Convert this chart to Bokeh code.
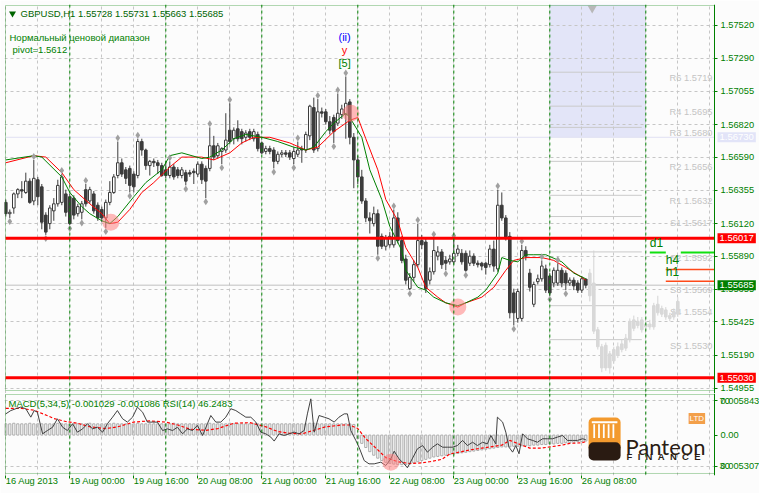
from bokeh.plotting import figure
from bokeh.models import (Range1d, FixedTicker, PrintfTickFormatter, Span, Label, BoxAnnotation,
                          ColumnDataSource, LinearAxis)
from bokeh.layouts import column
from bokeh.embed import file_html
from bokeh.resources import INLINE
from bokeh.core.properties import value

FONT = "Liberation Sans"
GREEN = "#008000"
DKGREEN = "#006400"
BG = "#fcfcfc"
GRID = "#c6c6c6"
CANDLE = "#3c3c3c"
FS = "9.3px"

# ---------------- data: GBPUSD H1 candles (bar 0 = 16 Aug 2013 08:00) ----------------
opens = [1.5627, 1.5619, 1.5623, 1.5633, 1.5636, 1.5634, 1.5642, 1.5628, 1.5643, 1.5638,
         1.5618, 1.5612, 1.5621, 1.5626, 1.5627, 1.5633, 1.5631, 1.5630, 1.5619, 1.5620,
         1.5636, 1.5628, 1.5633, 1.5625, 1.5622, 1.5616, 1.5627, 1.5634, 1.5646, 1.5655,
         1.5650, 1.5651, 1.5647, 1.5646, 1.5670, 1.5664, 1.5653, 1.5656, 1.5655, 1.5653,
         1.5650, 1.5646, 1.5652, 1.5650, 1.5646, 1.5648, 1.5648, 1.5649, 1.5647, 1.5654,
         1.5651, 1.5651, 1.5667, 1.5660, 1.5663, 1.5664, 1.5678, 1.5672, 1.5679, 1.5677,
         1.5673, 1.5677, 1.5672, 1.5675, 1.5669, 1.5663, 1.5665, 1.5664, 1.5656, 1.5661,
         1.5662, 1.5662, 1.5658, 1.5661, 1.5665, 1.5664, 1.5674, 1.5694, 1.5665, 1.5691,
         1.5691, 1.5684, 1.5687, 1.5683, 1.5689, 1.5689, 1.5698, 1.5673, 1.5657, 1.5645,
         1.5628, 1.5616, 1.5612, 1.5619, 1.5603, 1.5596, 1.5597, 1.5597, 1.5616, 1.5600,
         1.5587, 1.5566, 1.5574, 1.5583, 1.5600, 1.5599, 1.5572, 1.5578, 1.5589, 1.5592,
         1.5586, 1.5585, 1.5585, 1.5591, 1.5591, 1.5591, 1.5584, 1.5589, 1.5584, 1.5584,
         1.5584, 1.5583, 1.5594, 1.5580, 1.5625, 1.5616, 1.5603, 1.5563, 1.5545, 1.5545,
         1.5593, 1.5577, 1.5555, 1.5571, 1.5573, 1.5580, 1.5575, 1.5570, 1.5570, 1.5579,
         1.5577, 1.5570, 1.5572, 1.5570, 1.5565, 1.55728]
highs = [1.5629, 1.5622, 1.5634, 1.5637, 1.5642, 1.5648, 1.5644, 1.5657, 1.5645, 1.5640,
         1.5620, 1.5625, 1.5630, 1.5643, 1.5647, 1.5636, 1.5633, 1.5632, 1.5626, 1.5628,
         1.5640, 1.5638, 1.5635, 1.5627, 1.5624, 1.5629, 1.5642, 1.5647, 1.5670, 1.5658,
         1.5652, 1.5653, 1.5649, 1.5672, 1.5672, 1.5665, 1.5657, 1.5658, 1.5657, 1.5655,
         1.5656, 1.5656, 1.5654, 1.5652, 1.5652, 1.5650, 1.5650, 1.5651, 1.5656, 1.5656,
         1.5653, 1.5680, 1.5674, 1.5669, 1.5666, 1.5690, 1.5697, 1.5680, 1.5685, 1.5679,
         1.5678, 1.5679, 1.5679, 1.5677, 1.5670, 1.5667, 1.5667, 1.5666, 1.5663, 1.5664,
         1.5664, 1.5664, 1.5666, 1.5670, 1.5667, 1.5677, 1.5696, 1.5701, 1.5700, 1.5694,
         1.5693, 1.5688, 1.5689, 1.5704, 1.5696, 1.5716, 1.5700, 1.5676, 1.5660, 1.5650,
         1.5630, 1.5620, 1.5624, 1.5622, 1.5605, 1.5604, 1.5606, 1.5622, 1.5620, 1.5603,
         1.5590, 1.5577, 1.5586, 1.5612, 1.5604, 1.5602, 1.5581, 1.5602, 1.5596, 1.5594,
         1.5589, 1.5590, 1.5601, 1.5597, 1.5594, 1.5593, 1.5593, 1.5591, 1.5586, 1.5585,
         1.5585, 1.5597, 1.5600, 1.5636, 1.5634, 1.5618, 1.5606, 1.5566, 1.5566, 1.5597,
         1.5596, 1.5580, 1.5571, 1.5576, 1.5586, 1.5583, 1.5577, 1.5581, 1.5584, 1.5581,
         1.5579, 1.5574, 1.5574, 1.5572, 1.5575, 1.55731]
lows = [1.5617, 1.5616, 1.5619, 1.5630, 1.5630, 1.5633, 1.5626, 1.5625, 1.5625, 1.5608,
        1.5604, 1.5608, 1.5614, 1.5624, 1.5625, 1.5617, 1.5611, 1.5615, 1.5617, 1.5615,
        1.5624, 1.5626, 1.5619, 1.5614, 1.5613, 1.5609, 1.5625, 1.5633, 1.5644, 1.5645,
        1.5640, 1.5634, 1.5634, 1.5644, 1.5660, 1.5650, 1.5646, 1.5652, 1.5647, 1.5645,
        1.5644, 1.5644, 1.5643, 1.5644, 1.5644, 1.5639, 1.5645, 1.5640, 1.5645, 1.5640,
        1.5630, 1.5649, 1.5657, 1.5658, 1.5654, 1.5662, 1.5668, 1.5668, 1.5670, 1.5668,
        1.5670, 1.5671, 1.5670, 1.5663, 1.5661, 1.5661, 1.5661, 1.5651, 1.5654, 1.5659,
        1.5659, 1.5657, 1.5654, 1.5659, 1.5655, 1.5662, 1.5671, 1.5662, 1.5663, 1.5687,
        1.5682, 1.5675, 1.5669, 1.5681, 1.5686, 1.5672, 1.5668, 1.5637, 1.5640, 1.5626,
        1.5613, 1.5605, 1.5610, 1.5590, 1.5594, 1.5593, 1.5595, 1.5595, 1.5598, 1.5584,
        1.5569, 1.5565, 1.5571, 1.5581, 1.5594, 1.5563, 1.5569, 1.5576, 1.5586, 1.5580,
        1.5579, 1.5583, 1.5583, 1.5589, 1.5583, 1.5578, 1.5582, 1.5582, 1.5581, 1.5579,
        1.5576, 1.5581, 1.5578, 1.5578, 1.5614, 1.5600, 1.5545, 1.5540, 1.5542, 1.5543,
        1.5586, 1.5564, 1.5553, 1.5569, 1.5571, 1.5563, 1.5561, 1.5567, 1.5568, 1.5567,
        1.5565, 1.5568, 1.5565, 1.5563, 1.5563, 1.55663]
closes = [1.5619, 1.5620, 1.5633, 1.5636, 1.5635, 1.5642, 1.5627, 1.5644, 1.5631, 1.5613,
          1.5606, 1.5623, 1.5626, 1.5639, 1.5645, 1.5620, 1.5612, 1.5618, 1.5624, 1.5626,
          1.5626, 1.5636, 1.5621, 1.5616, 1.5616, 1.5627, 1.5634, 1.5645, 1.5655, 1.5647,
          1.5644, 1.5639, 1.5638, 1.5670, 1.5664, 1.5653, 1.5656, 1.5655, 1.5653, 1.5646,
          1.5646, 1.5652, 1.5645, 1.5646, 1.5650, 1.5642, 1.5647, 1.5648, 1.5654, 1.5643,
          1.5642, 1.5667, 1.5659, 1.5667, 1.5665, 1.5671, 1.5670, 1.5678, 1.5672, 1.5672,
          1.5676, 1.5673, 1.5677, 1.5665, 1.5662, 1.5665, 1.5663, 1.5656, 1.5661, 1.5662,
          1.5661, 1.5659, 1.5663, 1.5664, 1.5664, 1.5675, 1.5695, 1.5664, 1.5691, 1.5690,
          1.5684, 1.5678, 1.5677, 1.5690, 1.5693, 1.5697, 1.5673, 1.5657, 1.5645, 1.5628,
          1.5616, 1.5614, 1.5619, 1.5596, 1.5596, 1.5602, 1.5603, 1.5616, 1.5600, 1.5586,
          1.5572, 1.5574, 1.5583, 1.5600, 1.5597, 1.5566, 1.5578, 1.5593, 1.5592, 1.5583,
          1.5584, 1.5587, 1.5591, 1.5594, 1.5585, 1.5579, 1.5589, 1.5584, 1.5583, 1.5582,
          1.5581, 1.5594, 1.5582, 1.5625, 1.5616, 1.5602, 1.5549, 1.5549, 1.5564, 1.5593,
          1.5589, 1.5567, 1.5569, 1.5573, 1.5582, 1.5565, 1.5563, 1.5579, 1.5579, 1.5570,
          1.5570, 1.5572, 1.5568, 1.5565, 1.5573, 1.55685]

# projected (grey) candles to the right of the last bar
proj_x = [146, 147, 148, 149, 150, 151, 152, 153, 154, 155, 156, 157, 158, 159, 160, 161, 162, 163, 164, 165, 166, 167, 168]
proj_open = [1.5577, 1.5570, 1.5537, 1.5525, 1.5510, 1.5520, 1.5515, 1.5519, 1.5523, 1.5524, 1.5530, 1.5538,
             1.5543, 1.5544, 1.5539, 1.5541, 1.5539, 1.5549, 1.5552, 1.5551, 1.5547, 1.5546, 1.5548]
proj_high = [1.5580, 1.5593, 1.5539, 1.5527, 1.5528, 1.5522, 1.5525, 1.5528, 1.5530, 1.5534, 1.5545, 1.5547,
             1.5546, 1.5546, 1.5543, 1.5544, 1.5556, 1.5561, 1.5554, 1.5553, 1.5549, 1.5552, 1.5560]
proj_low = [1.5557, 1.5534, 1.5523, 1.5507, 1.5508, 1.5506, 1.5513, 1.5517, 1.5521, 1.5522, 1.5528, 1.5536,
            1.5538, 1.5535, 1.5537, 1.5537, 1.5537, 1.5547, 1.5546, 1.5544, 1.5543, 1.5544, 1.5546]
proj_close = [1.5561, 1.5536, 1.5525, 1.5510, 1.5526, 1.5510, 1.5523, 1.5525, 1.5527, 1.5531, 1.5543, 1.5544,
              1.5540, 1.5537, 1.5541, 1.5539, 1.5554, 1.5555, 1.5548, 1.5546, 1.5545, 1.5550, 1.5557]

# moving averages (green fast, red slow), read at sample bars
ma_fast_x = [0, 7, 9, 14, 16, 19, 21, 24, 26, 28, 32, 35, 39, 41, 44, 49, 51, 54, 57, 60,
             64, 68, 72, 75, 77, 80, 82, 85, 86, 89, 91, 94, 96, 99, 100, 103, 105, 107, 110, 113,
             115, 118, 120, 123, 124, 126, 128, 130, 132, 135, 139, 142, 145]
ma_fast = [1.5657, 1.5660, 1.5659, 1.5645, 1.5634, 1.5624, 1.5619, 1.5614, 1.5612, 1.5617,
           1.5631, 1.5641, 1.5650, 1.5660, 1.5662, 1.5658, 1.5659, 1.5664, 1.5672, 1.5675,
           1.5673, 1.5670, 1.5666, 1.5664, 1.5666, 1.5677, 1.5683, 1.5690, 1.5687, 1.5673,
           1.5650, 1.5629, 1.5610, 1.5593, 1.5579, 1.5567, 1.5565, 1.5560, 1.5556, 1.5554,
           1.5556, 1.5560, 1.5565, 1.5577, 1.5588, 1.5586, 1.5585, 1.5590, 1.5590, 1.5590,
           1.5585, 1.5577, 1.5573]
ma_slow_x = [0, 7, 10, 14, 17, 21, 24, 26, 28, 31, 34, 37, 41, 44, 49, 52, 56, 59, 62, 66,
             71, 75, 78, 82, 86, 88, 90, 93, 95, 98, 100, 103, 105, 108, 110, 113, 115, 119, 122, 125,
             127, 130, 134, 137, 140, 144, 145]
ma_slow = [1.5655, 1.5660, 1.5659, 1.5648, 1.5636, 1.5626, 1.5619, 1.5612, 1.5613, 1.5622,
           1.5634, 1.5641, 1.5652, 1.5659, 1.5659, 1.5657, 1.5662, 1.5669, 1.5673, 1.5673,
           1.5669, 1.5664, 1.5666, 1.5677, 1.5685, 1.5687, 1.5672, 1.5650, 1.5629, 1.5614,
           1.5595, 1.5581, 1.5567, 1.5560, 1.5556, 1.5553, 1.5556, 1.5560, 1.5567, 1.5579,
           1.5586, 1.5588, 1.5588, 1.5586, 1.5581, 1.5574, 1.5572]

# fractal markers (bars), MA crossings
fractal_up = [7, 14, 20, 28, 33, 41, 51, 56, 73, 78, 83, 85, 97, 103, 107, 112, 123, 129, 134, 138]
fractal_down = [1, 10, 16, 19, 25, 31, 45, 50, 54, 67, 72, 82, 93, 101, 110, 115, 127, 136, 140]
cross_x = [26.25, 86.25, 113]
cross_y = [1.5613, 1.5690, 1.5553]

# price levels
price_ticks = [1.57520, 1.57290, 1.57055, 1.56820, 1.56590, 1.56355, 1.56120, 1.55890,
               1.55655, 1.55425, 1.55190, 1.54955]
red_levels = [1.56017, 1.55030]
bid_price = 1.55685
box_level = 1.56730
piv_levels = [1.5719, 1.5695, 1.5680, 1.5656, 1.5632, 1.5617, 1.5592, 1.5569, 1.5554, 1.5530]
piv_labels = ["R6 1.5719", "R4 1.5695", "R3 1.5680", "R2 1.5656", "R1 1.5632",
              "S1 1.5617", "S2 1.5592", "S3 1.5569", "S4 1.5554", "S5 1.5530"]
piv_start, piv_end = 136, 159
tf_names = ["d1", "h4", "h1"]
tf_levels = [1.55916, 1.55796, 1.55713]
tf_colors = ["#10e010", "#ff4a1a", "#ff4a1a"]
tf_start = [161, 165, 165]
d1_gap = (165.0, 168.75)
peak_bar, peak_price = 84.7, 1.5716
shift_bar = 146.6

# time axis
day_starts = [16, 40, 64, 88, 112, 136, 160]
grid_bars = list(range(0, 177, 8))
time_ticks = [0, 16, 32, 48, 64, 80, 96, 112, 128, 144]
time_labels = ["16 Aug 2013", "19 Aug 00:00", "19 Aug 16:00", "20 Aug 08:00", "21 Aug 00:00",
               "21 Aug 16:00", "22 Aug 08:00", "23 Aug 00:00", "23 Aug 16:00", "26 Aug 08:00"]

# indicator panel: MACD(5,34,5) histogram + signal, RSI(14)
macd_hist = [0.0019, 0.0019, 0.0020, 0.0019, 0.0019, 0.0019, 0.0020, 0.0019, 0.0019, 0.0019,
             0.0019, 0.0019, 0.0019, 0.0020, 0.0019, 0.0019, 0.0019, 0.0019, 0.0019, 0.0019,
             0.0019, 0.0020, 0.0019, 0.0019, 0.0019, 0.0019, 0.0019, 0.0020, 0.0019, 0.0019,
             0.0019, 0.0019, 0.0019, 0.0020, 0.0019, 0.0019, 0.0019, 0.0019, 0.0019, 0.0019,
             0.0019, 0.0019, 0.0020, 0.0019, 0.0019, 0.0019, 0.0019, 0.0019, 0.0019, 0.0019,
             0.0019, 0.0020, 0.0019, 0.0019, 0.0019, 0.0019, 0.0020, 0.0019, 0.0019, 0.0019,
             0.0019, 0.0019, 0.0019, 0.0019, 0.0019, 0.0019, 0.0019, 0.0019, 0.0019, 0.0019,
             0.0019, 0.0019, 0.0019, 0.0019, 0.0019, 0.0019, 0.0020, 0.0020, 0.0019, 0.0019,
             0.0019, 0.0019, 0.0019, 0.0019, 0.0019, 0.0019, 0.0019, 0.0018,
             -0.0006, -0.0014, -0.0021, -0.0028, -0.0034, -0.0039, -0.0043, -0.0046, -0.0048, -0.0049,
             -0.0050, -0.0050, -0.0050, -0.0049, -0.0047, -0.0045, -0.0043, -0.0041, -0.0039, -0.0037,
             -0.0036, -0.0035, -0.0034, -0.0033, -0.0032, -0.0031, -0.0030, -0.0029, -0.0028, -0.0027,
             -0.0026, -0.0025, -0.0024, -0.0023, -0.0022, -0.0021, -0.0020, -0.0020, -0.0020, -0.0019,
             -0.0019, -0.0018, -0.0018, -0.0018, -0.0017, -0.0017, -0.0016, -0.0016, -0.0015, -0.0015,
             -0.0014, -0.0014, -0.0013, -0.0013, -0.0012, -0.0011, -0.0011, -0.0010]
sig_x = [0, 4, 7, 10, 12, 15, 18, 21, 25, 28, 32, 36, 40, 43, 46, 50, 53, 57, 61, 65,
         68, 71, 74, 77, 80, 84, 86, 88, 90, 93, 95, 98, 101, 104, 106, 109, 111, 114, 116, 119,
         121, 124, 126, 129, 131, 134, 136, 139, 141, 144, 145]
sig_v = [0.0045, 0.0045, 0.0042, 0.0034, 0.0028, 0.0023, 0.0020, 0.0014, 0.0011, 0.0014,
         0.0022, 0.0024, 0.0022, 0.0017, 0.0010, 0.0008, 0.0011, 0.0020, 0.0021, 0.0014,
         0.0006, 0.0003, 0.0002, 0.0008, 0.0014, 0.0017, 0.0017, 0.0011, -0.0006, -0.0025,
         -0.0038, -0.0045, -0.0048, -0.0047, -0.0045, -0.0041, -0.0032, -0.0028, -0.0025, -0.0022,
         -0.0020, -0.0017, -0.0009, -0.0017, -0.0022, -0.0022, -0.0020, -0.0017, -0.0014, -0.0013,
         -0.0011]
rsi_x = [0, 1.25, 2.5, 3.75, 5, 6.25, 7.1, 7.9, 9.2, 10.4,
         11.7, 12.9, 14.2, 15.4, 16.7, 17.9, 19.2, 20.4, 21.7, 22.9,
         24.2, 25.4, 26.7, 27.9, 29.2, 30.4, 31.7, 32.9, 34.2, 35.4,
         36.7, 37.9, 39.2, 40.4, 41.7, 42.9, 44.2, 45.4, 46.7, 47.9,
         49.2, 50.4, 51.25, 52.5, 53.75, 55, 56.25, 57.5, 58.75, 60,
         61.25, 62.5, 63.75, 65, 66.25, 67.1, 68.3, 69.6, 70.8, 72.1,
         73.3, 74.6, 75.4, 76.25, 77.1, 78.3, 79.6, 80.8, 82.1, 83.3,
         84.6, 85.4, 86.25, 87.5, 88.3, 89.6, 90.8, 92.1, 93.75, 95,
         96.25, 97.1, 98.3, 99.6, 100.4, 101.6, 102.9, 104.2, 105.4, 106.7,
         107.9, 109.2, 110.4, 111.7, 112.9, 114.2, 115.4, 116.7, 117.9, 119.2,
         120.4, 121.25, 122.5, 122.9, 124.2, 125, 125.8, 126.7, 127.5, 128.3,
         129.2, 130.4, 131.7, 132.9, 134.2, 135.4, 136.7, 137.9, 139.2, 140.4,
         141.7, 142.9, 144.2, 145]
rsi_v = [61.9, 63.9, 65.0, 66.0, 65.0, 59.9, 63.9, 62.9, 49.8, 51.8,
         53.8, 58.9, 53.8, 51.8, 55.9, 50.8, 52.8, 55.9, 52.8, 53.8,
         50.8, 55.9, 59.9, 63.9, 58.9, 56.9, 59.9, 66.0, 62.9, 56.9,
         56.9, 56.9, 51.8, 52.8, 51.8, 53.8, 49.8, 52.8, 51.8, 54.9,
         48.8, 55.9, 60.9, 56.9, 56.9, 59.9, 65.0, 63.9, 61.9, 59.9,
         59.9, 56.9, 50.8, 49.8, 47.8, 45.4, 49.8, 48.8, 49.8, 50.8,
         49.8, 51.8, 61.9, 71.0, 50.8, 60.9, 59.9, 58.9, 56.9, 59.9,
         61.9, 61.9, 51.8, 45.8, 41.7, 33.6, 31.6, 31.6, 32.6, 30.6,
         34.6, 39.3, 34.6, 31.6, 29.2, 34.6, 40.7, 42.7, 38.7, 41.7,
         43.7, 41.7, 41.7, 41.7, 42.7, 45.8, 42.7, 44.7, 42.7, 44.7,
         43.7, 48.8, 43.7, 59.9, 56.9, 50.8, 41.7, 38.7, 42.7, 37.7,
         49.8, 46.8, 45.8, 44.7, 46.8, 46.8, 46.8, 47.8, 48.8, 45.8,
         45.8, 45.8, 46.8, 46.25]
rsi_cross_x, rsi_cross_y = [96.25], [32.6]
macd_ticks = [0.005843, 0.0, -0.005307]
macd_tick_labels = ["0.005843", "0.00", "0.005307"]
rsi_levels = [70, 30]

# ---------------- layout constants (bar units / value units of the visible frame edges) ----------------
X_START, X_END = -0.325, 188.425          # plotting area incl. the price-scale strip
X0, X_EDGE = -0.075, 177.175              # visible chart frame (left / right edge)
P_LO, P_HI = 1.549194, 1.576684           # main y range
P_EDGE_LO, P_EDGE_HI = 1.549406, 1.576614 # main frame edges
M_LO, M_HI = -0.006828, 0.007026          # indicator y range (MACD units)
M_EDGE_LO, M_EDGE_HI = -0.006490, 0.006857
R_LO, R_HI = 24.54, 74.24                 # RSI range


def style_axis(ax):
    ax.major_label_text_font = FONT
    ax.major_label_text_font_size = FS
    ax.major_label_text_color = GREEN
    ax.axis_line_color = GREEN
    ax.major_tick_line_color = GREEN
    ax.major_tick_in = 0
    ax.major_tick_out = 3
    ax.minor_tick_line_color = None


# ---------------- main price panel ----------------
n = len(closes)
bars = list(range(n))
src = ColumnDataSource(dict(
    x=bars, h=highs, l=lows,
    top=[max(o, c) for o, c in zip(opens, closes)],
    bot=[min(o, c) for o, c in zip(opens, closes)],
    fill=["#ffffff" if c >= o else CANDLE for o, c in zip(opens, closes)],
))
psrc = ColumnDataSource(dict(
    x=proj_x, h=proj_high, l=proj_low,
    top=[max(o, c) for o, c in zip(proj_open, proj_close)],
    bot=[min(o, c) for o, c in zip(proj_open, proj_close)],
))

p = figure(frame_width=755, frame_height=389, x_range=Range1d(X_START, X_END), y_range=Range1d(P_LO, P_HI),
           x_axis_location=None, y_axis_location=None, toolbar_location=None, output_backend="svg",
           min_border_left=4, min_border_top=4, min_border_bottom=0, min_border_right=0,
           background_fill_color=BG, border_fill_color=BG)
p.outline_line_color = None
yax = LinearAxis(fixed_location=X_EDGE, ticker=FixedTicker(ticks=price_ticks),
                 formatter=PrintfTickFormatter(format="%.5f"))
style_axis(yax)
yax.major_label_standoff = 3
p.add_layout(yax, "right")
p.ygrid.ticker = FixedTicker(ticks=price_ticks)
p.xgrid.ticker = FixedTicker(ticks=grid_bars)
for g in (p.xgrid, p.ygrid):
    g.grid_line_color = GRID
    g.grid_line_dash = "3 3"

# lavender box and its level line
p.quad(left=[piv_start], right=[160], bottom=[box_level], top=[P_HI], fill_color="#e3e5f8",
       line_color=None, level="image")
p.segment(x0=[X0], x1=[X_EDGE], y0=[box_level], y1=[box_level], line_color="#e0e0f2", line_width=1)
for d in day_starts:
    p.add_layout(Span(location=d, dimension="height", line_color=GREEN, line_dash="3 3", line_width=1))

# pivot lines and labels
p.segment(x0=[piv_start] * len(piv_levels), x1=[piv_end] * len(piv_levels), y0=piv_levels, y1=piv_levels,
          line_color="#cacaca", line_width=1)
p.text(x=[X_EDGE] * len(piv_levels), y=piv_levels, text=piv_labels, x_offset=-2, y_offset=6,
       text_align="right", text_baseline="middle", text_font=value(FONT), text_font_size=FS,
       text_color="#c4c4c4")

# bid line
p.segment(x0=[X0], x1=[X_EDGE], y0=[bid_price], y1=[bid_price], line_color="#c0c0c0", line_width=1)

# projected candles
p.segment(x0="x", y0="h", x1="x", y1="l", source=psrc, line_color="#d4d4d4", line_width=1)
p.vbar(x="x", width=0.65, top="top", bottom="bot", source=psrc, fill_color="#d8d8d8", line_color="#d8d8d8")

# candles
p.segment(x0="x", y0="h", x1="x", y1="l", source=src, line_color=CANDLE, line_width=1)
p.vbar(x="x", width=0.65, top="top", bottom="bot", source=src, fill_color="fill", line_color=CANDLE, line_width=1)

# moving averages
p.line(ma_slow_x, ma_slow, line_color="#ff0000", line_width=1)
p.line(ma_fast_x, ma_fast, line_color=GREEN, line_width=1)

# fractals
p.scatter(fractal_up, [highs[b] + 0.00025 for b in fractal_up], marker="diamond", size=7,
          fill_color="#a0a0a0", line_color=None)
p.scatter(fractal_down, [lows[b] - 0.00025 for b in fractal_down], marker="diamond", size=7,
          fill_color="#a0a0a0", line_color=None)

# MA crossings
p.scatter(cross_x, cross_y, size=17, fill_color="#ff7f7f", fill_alpha=0.55, line_color=None)

# red support/resistance lines
p.segment(x0=[X0] * 2, x1=[X_EDGE] * 2, y0=red_levels, y1=red_levels, line_color="#ff0000", line_width=3)

# timeframe levels d1/h4/h1
for name, lv, col, st in zip(tf_names, tf_levels, tf_colors, tf_start):
    if name == "d1":
        p.segment(x0=[st, d1_gap[1]], x1=[d1_gap[0], X_EDGE], y0=[lv, lv], y1=[lv, lv], line_color=col,
                  line_width=2)
    else:
        p.segment(x0=[st], x1=[X_EDGE], y0=[lv], y1=[lv], line_color=col, line_width=1.5)
    p.add_layout(Label(x=st, y=lv, text=name, y_offset=2, text_font=FONT, text_font_size="12px",
                       text_color=GREEN, text_baseline="bottom", text_align="left"))

# chart-shift marker
p.scatter([shift_bar], [P_EDGE_HI - 0.0002], marker="inverted_triangle", size=9, fill_color="#b8b8b8",
          line_color=None)

# cover for the price-scale strip
p.quad(left=[X_EDGE], right=[X_END], bottom=[P_LO], top=[P_HI], fill_color=BG, line_color=None)

# frame
p.add_layout(BoxAnnotation(left=X0, right=X_EDGE, bottom=P_EDGE_LO, top=P_EDGE_HI, fill_color=None,
                           line_color=GREEN, line_width=1))

# header texts
p.scatter([1.675], [1.57605], marker="inverted_triangle", size=7, fill_color=DKGREEN, line_color=None)
p.add_layout(Label(x=3.675, y=1.57605, text="GBPUSD,H1  1.55728 1.55731 1.55663 1.55685", text_font=FONT,
                   text_font_size="9.5px", text_color=DKGREEN, text_baseline="middle"))
p.add_layout(Label(x=0.925, y=1.57432, text="Нормальный ценовой диапазон", text_font=FONT,
                   text_font_size="9.5px", text_color=GREEN, text_baseline="middle"))
p.add_layout(Label(x=1.675, y=1.57347, text="pivot=1.5612", text_font=FONT,
                   text_font_size="9.5px", text_color=GREEN, text_baseline="middle"))

# wave labels
for txt, off, col in [("[5]", 13, GREEN), ("y", 26, "#ff0000"), ("(ii)", 39, "#0000ff")]:
    p.add_layout(Label(x=peak_bar, y=peak_price, text=txt, y_offset=off, text_font=FONT,
                       text_font_size="11px", text_color=col, text_align="center", text_baseline="middle"))

# price boxes on the scale
for lv, bg in [(red_levels[0], "#ff0000"), (red_levels[1], "#ff0000"), (bid_price, GREEN), (box_level, "#e2e4f8")]:
    p.add_layout(Label(x=X_EDGE, y=lv, text=f"{lv:.5f}", x_offset=3, text_font=FONT, text_font_size="9.5px",
                       text_color="#ffffff", text_baseline="middle", text_align="left",
                       background_fill_color=bg, padding=2))

# ---------------- indicator panel ----------------
q = figure(frame_width=755, frame_height=82, x_range=p.x_range, y_range=Range1d(M_LO, M_HI),
           x_axis_location="below", y_axis_location=None, toolbar_location=None, output_backend="svg",
           min_border_left=4, min_border_top=0, min_border_bottom=17, min_border_right=0,
           background_fill_color=BG, border_fill_color=BG)
q.extra_y_ranges = {"rsi": Range1d(R_LO, R_HI)}
q.outline_line_color = None
qy = LinearAxis(fixed_location=X_EDGE, ticker=FixedTicker(ticks=macd_ticks))
qy.major_label_overrides = dict(zip(macd_ticks, macd_tick_labels))
style_axis(qy)
qy.major_label_standoff = 3
q.add_layout(qy, "right")
qx = q.xaxis[0]
qx.ticker = FixedTicker(ticks=time_ticks)
qx.major_label_overrides = dict(zip(time_ticks, time_labels))
style_axis(qx)
qx.axis_line_color = None
qx.major_label_orientation = -0.0001
qx.major_label_standoff = 2
q.xgrid.ticker = FixedTicker(ticks=grid_bars)
q.ygrid.ticker = FixedTicker(ticks=[macd_ticks[0], macd_ticks[2]])
for g in (q.xgrid, q.ygrid):
    g.grid_line_color = GRID
    g.grid_line_dash = "3 3"
for d in day_starts:
    q.add_layout(Span(location=d, dimension="height", line_color=GREEN, line_dash="3 3", line_width=1))

q.vbar(x=bars, width=0.55, top=macd_hist, bottom=0, fill_color=None, line_color="#ababab", line_width=1)
q.line(sig_x, sig_v, line_color="#ff0000", line_width=1.2, line_dash="3 2")
q.line(rsi_x, rsi_v, line_color="#404040", line_width=1, y_range_name="rsi")
q.scatter(rsi_cross_x, rsi_cross_y, size=17, fill_color="#ff7f7f", fill_alpha=0.55, line_color=None,
          y_range_name="rsi")
q.quad(left=[X_EDGE], right=[X_END], bottom=[M_LO], top=[M_HI], fill_color=BG, line_color=None)
q.add_layout(BoxAnnotation(left=X0, right=X_EDGE, bottom=M_EDGE_LO, top=M_EDGE_HI, fill_color=None,
                           line_color=GREEN, line_width=1))

q.add_layout(Label(x=0.675, y=0.005337, text="MACD(5,34,5) -0.001029 -0.001086  RSI(14) 46.2483",
                   text_font=FONT, text_font_size="9.5px", text_color=GREEN, text_baseline="middle"))
for lvl, mt in zip(rsi_levels, [macd_ticks[0], macd_ticks[2]]):
    q.add_layout(Label(x=X_EDGE, y=mt, text=str(lvl), x_offset=5, text_font=FONT, text_font_size=FS,
                       text_color=GREEN, text_baseline="middle"))

# Panteon Finance logo
q.add_layout(BoxAnnotation(left=145.7, right=153.7, top=0.00297, bottom=-0.00300, fill_color="#f39a2e",
                           fill_alpha=1, line_color=None, border_radius=5))
q.add_layout(BoxAnnotation(left=145.7, right=153.7, top=-0.00120, bottom=-0.00429, fill_color="#2a1b12",
                           fill_alpha=1, line_color=None, border_radius=5))
q.add_layout(BoxAnnotation(left=146.5, right=152.9, top=0.00235, bottom=0.00200, fill_color="#ffffff",
                           fill_alpha=1, line_color=None))
for cx in [147.1, 148.3, 149.5, 150.7, 151.9]:
    q.add_layout(BoxAnnotation(left=cx - 0.22, right=cx + 0.22, top=0.00185, bottom=-0.00050,
                               fill_color="#ffffff", fill_alpha=1, line_color=None))
q.add_layout(Label(x=154.9, y=-0.00193, text="Panteon", text_font="Lato", text_font_size="22px",
                   text_color="#2b1d14", text_baseline="alphabetic"))
q.add_layout(Label(x=155.2, y=-0.00370,
                   text="F\u00a0\u00a0I\u00a0\u00a0N\u00a0\u00a0A\u00a0\u00a0N\u00a0\u00a0C\u00a0\u00a0E",
                   text_font=FONT, text_font_size="9.5px", text_font_style="bold", text_color="#2b1d14",
                   text_baseline="alphabetic"))
q.add_layout(Label(x=170.7, y=0.00280, text="LTD", text_font=FONT, text_font_size="8px", text_color="#ffffff",
                   text_baseline="middle", background_fill_color="#f3a04a", padding=1))

layout = column(p, q, spacing=0)
open("out.html", "w").write(file_html(layout, INLINE))
